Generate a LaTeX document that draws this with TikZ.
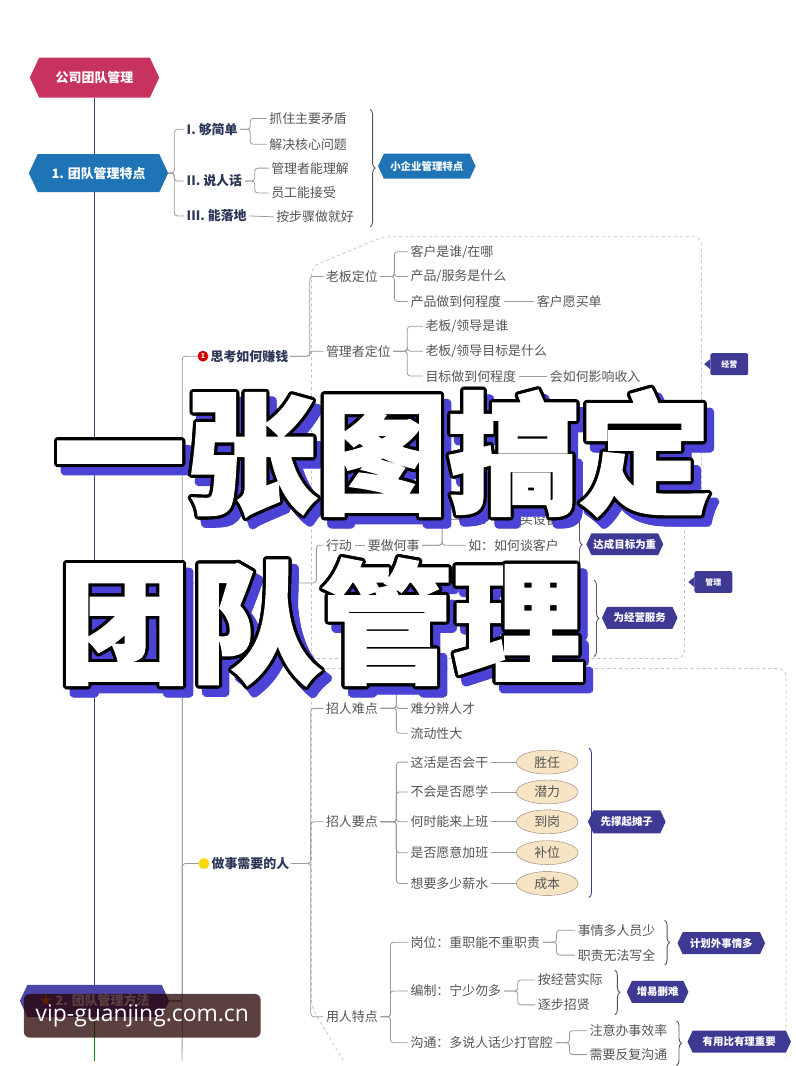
\documentclass[tikz,border=0pt]{standalone}
\usepackage{fontspec}
\setmainfont{Noto Sans CJK SC}
\newfontfamily\titlefont{Noto Sans CJK SC}[BoldFeatures={FakeBold=2}]
\newfontfamily\wmfont{Open Sans}
\usepackage{xcolor}
\usetikzlibrary{arrows.meta,positioning,calc,shapes.symbols,shapes.geometric,decorations.pathreplacing}
\definecolor{rootred}{HTML}{C8325E}
\definecolor{secblue}{HTML}{1E74B5}
\definecolor{labpur}{HTML}{3E3A94}
\definecolor{secpur}{HTML}{4A46A6}
\definecolor{trunkcol}{HTML}{3F3D72}
\definecolor{txtgray}{HTML}{555555}
\definecolor{txtnavy}{HTML}{2C3656}
\definecolor{lngray}{HTML}{9A9A9A}
\definecolor{dashgray}{HTML}{C4C4C4}
\definecolor{tanfill}{HTML}{F6E4C4}
\definecolor{shade}{HTML}{4B43D6}
\newcommand{\tfs}{\fontsize{13}{15}\selectfont}

\begin{document}
\begin{tikzpicture}[
  x=1pt, y=-1pt,
  t/.style={inner sep=2.5pt,anchor=west,text=txtgray,font=\tfs},
  tb/.style={t,text=txtnavy,font=\tfs\bfseries},
  hx/.style={signal,signal to=west and east,signal pointer angle=130,text=white,font=\tfs\bfseries,inner sep=2pt},
  lab/.style={hx,fill=labpur,font=\fontsize{10.5}{12}\selectfont\bfseries,minimum height=22pt},
  tag/.style={fill=labpur,rounded corners=2pt,text=white,font=\fontsize{8}{9}\selectfont\bfseries,minimum width=38pt,minimum height=22pt},
  br/.style={draw=lngray,line width=0.8pt,rounded corners=3pt},
  brc/.style={decorate,decoration={brace,amplitude=5pt},draw=txtgray,line width=0.9pt},
  dbox/.style={draw=dashgray,dashed,line width=0.8pt,rounded corners=8pt},
  oval/.style={ellipse,draw=gray!70!brown,fill=tanfill,minimum width=62pt,minimum height=24pt,inner sep=1pt,text=txtgray,font=\tfs},
  ttl/.style={anchor=west,inner sep=0pt,font=\titlefont\bfseries\fontsize{132}{132}\selectfont}]
\fill[white] (0,0) rectangle (800,1066);
% trunk and top nodes
\node[hx,fill=rootred,minimum width=130pt,minimum height=40pt] (root) at (95,78) {公司团队管理};
\node[hx,fill=secblue,minimum width=140pt,minimum height=38pt] (sec1) at (99,174) {1. 团队管理特点};
\node[hx,fill=secpur,minimum width=150pt,minimum height=32pt] (sec2) at (95,1006) {\textcolor{orange}{★} 2. 团队管理方法};
\coordinate (bot) at (95,1066);
\draw[trunkcol,line width=1.6pt] (root.south) -- (root.south |- sec1.north);
\draw[trunkcol,line width=1.6pt] (root.south |- sec1.south) -- (sec2.north);
\draw[green!55!black,line width=1.6pt] (sec2.south) -- (bot);
% 1. features
\node[tb] (g1) at (185,130) {I. 够简单};
\node[tb] (g2) at (185,182) {II. 说人话};
\node[tb] (g3) at (185,217) {III. 能落地};
\foreach \y in {g1,g2,g3} \draw[br] (sec1.east) -- ++(6,0) |- (\y.west);
\node[t] (a1) at (268,119) {抓住主要矛盾};
\node[t] (a2) at (268,145) {解决核心问题};
\node[t] (a3) at (270,169) {管理者能理解};
\node[t] (a4) at (270,194) {员工能接受};
\node[t] (a5) at (275,218) {按步骤做就好};
\foreach \x/\y in {g1/a1,g1/a2,g2/a3,g2/a4} \draw[br] (\x.east) -- ++(10,0) |- (\y.west);
\draw[br] (g3.east) -- (a5.west);
\draw[brc] (372,110) -- (372,228);
\node[hx,fill=secblue,font=\fontsize{10.5}{12}\selectfont\bfseries,minimum width=98pt,minimum height=25pt] (lb1) at (429,167) {小企业管理特点};
% 2. methods, main bracket
\node[circle,fill=red!80!black,text=white,inner sep=0pt,minimum size=11pt,font=\fontsize{7}{7}\selectfont\bfseries] (m1i) at (204,358) {1};
\node[tb,inner sep=1.5pt] (m1) at (210,358) {思考如何赚钱};
\coordinate (m2) at (196,586);
\coordinate (m2e) at (300,586);
\node[circle,fill=yellow!75!orange,inner sep=0pt,minimum size=11pt] (m3i) at (205,868) {};
\node[tb,inner sep=1.5pt] (m3) at (211,868) {做事需要的人};
\coordinate (m4) at (183,1066);
\foreach \y in {m1i,m2,m3i} \draw[br] (sec2.east) -- ++(13,0) |- (\y);
\draw[br] (sec2.east) -- ++(13,0) -- (m4);
% box of 经营
\draw[dbox] (313,500) -- (313,268) -- (385,238) -- (705,238) -- (705,500);
\node[t] (p1) at (325,278) {老板定位};
\node[t] (p2) at (325,353) {管理者定位};
\foreach \y in {p1,p2} \draw[br] (m1.east) -- ++(20,0) |- (\y.west);
\node[t] (q1) at (410,253) {客户是谁/在哪};
\node[t] (q2) at (410,278) {产品/服务是什么};
\node[t] (q3) at (410,303) {产品做到何程度};
\node[t] (r1) at (537,303) {客户愿买单};
\node[t] (q4) at (425,328) {老板/领导是谁};
\node[t] (q5) at (425,353) {老板/领导目标是什么};
\node[t] (q6) at (425,378) {目标做到何程度};
\node[t] (r2) at (550,378) {会如何影响收入};
\foreach \x/\y in {p1/q1,p1/q2,p1/q3,p2/q4,p2/q5,p2/q6} \draw[br] (\x.east) -- ++(14,0) |- (\y.west);
\foreach \x/\y in {q3/r1,q6/r2} \draw[br] (\x.east) -- (\y.west);
\node[tag] (jy) at (733,366) {经营};
\fill[labpur] (jy.west) ++(0,-5) -- ++(-6,5) -- ++(6,5) -- cycle;
% box of 管理
\draw[dbox] (313,512) rectangle (688,662);
\node[t] (b1) at (325,548) {行动};
\node[t] (b2) at (367,548) {要做何事};
\node[t] (b3) at (468,522) {如：如何买设备};
\node[t] (b4) at (468,548) {如：如何谈客户};
\draw[br] (m2e) -- ++(18,0) |- (b1.west);
\draw[br] (b1.east) -- (b2.west);
\foreach \y in {b3,b4} \draw[br] (b2.east) -- ++(20,0) |- (\y.west);
\draw[brc] (580,505) -- (580,590);
\node[lab,minimum width=74pt] (lb2) at (628,547) {达成目标为重};
\draw[brc] (597,583) -- (597,660);
\node[lab,minimum width=76pt] (lb3) at (643,621) {为经营服务};
\node[tag] (gl) at (717,585) {管理};
\fill[labpur] (gl.west) ++(0,-5) -- ++(-6,5) -- ++(6,5) -- cycle;
% box of people
\draw[dbox] (345,1066) -- (313,1012) -- (313,672) -- (790,672) -- (790,1066);
\node[t] (c1) at (325,712) {招人难点};
\node[t] (c2) at (325,826) {招人要点};
\node[t] (c3) at (325,1022) {用人特点};
\foreach \y in {c1,c2,c3} \draw[br] (m3.east) -- ++(20,0) |- (\y.west);
\coordinate (d0) at (408,688);
\node[t] (d1) at (410,712) {难分辨人才};
\node[t] (d2) at (410,737) {流动性大};
\foreach \y in {d0,d1,d2} \draw[br] (c1.east) -- ++(16,0) |- (\y);
\node[t] (e1) at (410,766) {这活是否会干};
\node[t] (e2) at (410,796) {不会是否愿学};
\node[t] (e3) at (410,826) {何时能来上班};
\node[t] (e4) at (410,857) {是否愿意加班};
\node[t] (e5) at (410,888) {想要多少薪水};
\node[oval] (f1) at (550,766) {胜任};
\node[oval] (f2) at (550,796) {潜力};
\node[oval] (f3) at (550,826) {到岗};
\node[oval] (f4) at (550,857) {补位};
\node[oval] (f5) at (550,888) {成本};
\foreach \y in {e1,e2,e3,e4,e5} \draw[br] (c2.east) -- ++(16,0) |- (\y.west);
\foreach \x/\y in {e1/f1,e2/f2,e3/f3,e4/f4,e5/f5} \draw[br] (\x.east) -- (\y.west);
\draw[brc,draw=labpur] (592,752) -- (592,902);
\node[lab,minimum width=78pt,minimum height=23pt] (lb5) at (630,826) {先撑起摊子};
\node[t] (h1) at (410,947) {岗位：重职能不重职责};
\node[t] (h2) at (410,996) {编制：宁少勿多};
\node[t] (h3) at (410,1048) {沟通：多说人话少打官腔};
\foreach \y in {h1,h2,h3} \draw[br] (c3.east) -- ++(10,0) |- (\y.west);
\node[t] (k1) at (578,935) {事情多人员少};
\node[t] (k2) at (578,960) {职责无法写全};
\node[t] (k3) at (538,985) {按经营实际};
\node[t] (k4) at (538,1010) {逐步招贤};
\node[t] (k5) at (590,1036) {注意办事效率};
\node[t] (k6) at (590,1060) {需要反复沟通};
\foreach \x/\y in {h1/k1,h1/k2,h2/k3,h2/k4,h3/k5,h3/k6} \draw[br] (\x.east) -- ++(14,0) |- (\y.west);
\draw[brc] (668,925) -- (668,970);
\node[lab,minimum width=88pt] (lb6) at (725,948) {计划外事情多};
\draw[brc] (618,975) -- (618,1020);
\node[lab,minimum width=62pt] (lb7) at (661,997) {增易删难};
\draw[brc] (680,1026) -- (680,1071);
\node[lab,minimum width=104pt] (lb8) at (743,1047) {有用比有理重要};
% big title over the map
\coordinate (t1) at (54,455);
\coordinate (t2) at (59,625);
\foreach \p/\s in {t1/一张图搞定,t2/团队管理}{
  \foreach \a in {0,30,...,330} \node[ttl,text=shade] at ($(\p)+(7,8)+(\a:3.5)$) {\s};
  \foreach \a in {0,22.5,...,337.5} \node[ttl,text=black] at ($(\p)+(\a:3.2)$) {\s};
  \node[ttl,text=white] at (\p) {\s};
}
% watermark
\node[fill=black!85!red,fill opacity=.75,text opacity=1,text=white,rounded corners=6pt,minimum width=238pt,minimum height=44pt,font=\wmfont\fontsize{23}{25}\selectfont] (wm) at (143,1021) {vip-guanjing.com.cn};
\end{tikzpicture}
\end{document}
